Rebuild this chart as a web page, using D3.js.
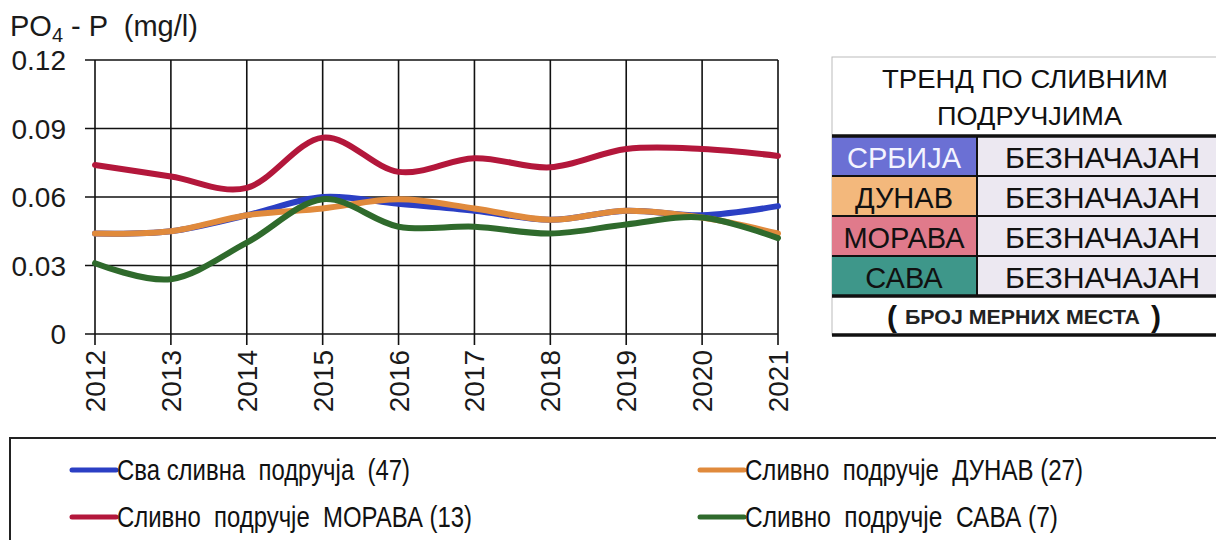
<!DOCTYPE html>
<html><head><meta charset="utf-8">
<script src="https://cdn.jsdelivr.net/npm/d3@7"></script>
<style>
body{margin:0;background:#fff;}
svg{display:block;font-family:"Liberation Sans",Arial,sans-serif;}
</style></head>
<body><svg id="c" width="1216" height="540"></svg>
<script>
const years = [2012,2013,2014,2015,2016,2017,2018,2019,2020,2021];
const yTicks = [0,0.03,0.06,0.09,0.12];
const yTickLabels = ["0","0.03","0.06","0.09","0.12"];
const srbija = [0.044,0.045,0.052,0.060,0.057,0.054,0.050,0.054,0.052,0.056];
const dunav  = [0.044,0.045,0.052,0.055,0.059,0.055,0.050,0.054,0.051,0.044];
const morava = [0.074,0.069,0.064,0.086,0.071,0.077,0.073,0.081,0.081,0.078];
const sava   = [0.031,0.024,0.040,0.059,0.047,0.047,0.044,0.048,0.051,0.042];
const seriesNames = ["Сва сливна  подручја  (47)","Сливно  подручје  ДУНАВ (27)","Сливно  подручје  МОРАВА (13)","Сливно  подручје  САВА (7)"];
const seriesColors = ["#2b3fc4","#e08a3c","#b3173b","#2f6a2c"];
const tableRegions = ["СРБИЈА","ДУНАВ","МОРАВА","САВА"];
const tableTrends = ["БЕЗНАЧАЈАН","БЕЗНАЧАЈАН","БЕЗНАЧАЈАН","БЕЗНАЧАЈАН"];
const tableColors = ["#6b70d4","#f3b87c","#e07a8b","#3e978a"];
const tableTextColors = ["#f4f4ff","#111","#111","#111"];

const svg = d3.select("#c");
const x = d3.scaleLinear().domain([2012,2021]).range([95,778]);
const y = d3.scaleLinear().domain([0,0.12]).range([334,60]);

function fit(sel, w){
  sel.each(function(){ this.setAttribute("textLength", w); this.setAttribute("lengthAdjust","spacingAndGlyphs"); });
  return sel;
}

// grid
const g = svg.append("g");
g.selectAll(".hg").data(yTicks).join("line")
  .attr("x1",85).attr("x2",x(2021)).attr("y1",d=>y(d)).attr("y2",d=>y(d))
  .attr("stroke","#111").attr("stroke-width",1.6);
g.selectAll(".vg").data(years).join("line")
  .attr("x1",d=>x(d)).attr("x2",d=>x(d)).attr("y1",y(0.12)).attr("y2",y(0)+11)
  .attr("stroke","#111").attr("stroke-width",1.6);

// y labels
g.selectAll(".yl").data(yTicks).join("text")
  .attr("x",66).attr("y",d=>y(d)+10).attr("text-anchor","end")
  .attr("font-size",28).attr("fill","#1a1a1a")
  .text((d,i)=>yTickLabels[i]);
// x labels
g.selectAll(".xl").data(years).join("text")
  .attr("transform",d=>`translate(${x(d)+10},350) rotate(-90)`)
  .attr("text-anchor","end").attr("font-size",28).attr("fill","#1a1a1a")
  .text(d=>d);

// title
const t = svg.append("text").attr("x",10).attr("y",36).attr("font-size",29).attr("fill","#1a1a1a")
  .attr("xml:space","preserve").style("white-space","pre");
t.append("tspan").text("PO");
t.append("tspan").attr("dy",6).attr("font-size",20).text("4");
t.append("tspan").attr("dy",-6).text(" - P  (mg/l)");

// lines
const line = d3.line().x((d,i)=>x(years[i])).y(d=>y(d)).curve(d3.curveCatmullRom.alpha(0));
const drawOrder = [[srbija,0],[dunav,1],[sava,3],[morava,2]];
drawOrder.forEach(([vals,ci])=>{
  svg.append("path").attr("d",line(vals)).attr("fill","none")
    .attr("stroke",seriesColors[ci]).attr("stroke-width",6).attr("stroke-linecap","round");
});

// table
const tb = svg.append("g");
tb.append("rect").attr("x",832).attr("y",57).attr("width",390).attr("height",278)
  .attr("fill","#fff").attr("stroke","#bbb").attr("stroke-width",1);
fit(tb.append("text").attr("x",882).attr("y",88).attr("font-size",25).attr("fill","#111").text("ТРЕНД ПО СЛИВНИМ"),286);
fit(tb.append("text").attr("x",937).attr("y",125).attr("font-size",25).attr("fill","#111").text("ПОДРУЧЈИМА"),185);
const rowTop = 136, rowH = 40;
tableRegions.forEach((r,i)=>{
  const yy = rowTop + i*rowH;
  tb.append("rect").attr("x",832).attr("y",yy).attr("width",145).attr("height",rowH).attr("fill",tableColors[i]);
  tb.append("rect").attr("x",977).attr("y",yy).attr("width",245).attr("height",rowH).attr("fill","#ece8f1");
  tb.append("text").attr("x",904).attr("y",yy+32).attr("text-anchor","middle").attr("font-size",29)
    .attr("fill",tableTextColors[i]).text(r);
  fit(tb.append("text").attr("x",1005).attr("y",yy+32).attr("font-size",29)
    .attr("fill","#111").text(tableTrends[i]),195);
  if(i>0) tb.append("line").attr("x1",832).attr("x2",1216).attr("y1",yy).attr("y2",yy).attr("stroke","#111").attr("stroke-width",2);
});
tb.append("line").attr("x1",977).attr("x2",977).attr("y1",rowTop).attr("y2",rowTop+4*rowH).attr("stroke","#111").attr("stroke-width",2);
[rowTop, rowTop+4*rowH, 335].forEach(v=>{
  tb.append("line").attr("x1",832).attr("x2",1216).attr("y1",v).attr("y2",v).attr("stroke","#111").attr("stroke-width",3.5);
});
fit(tb.append("text").attr("x",905).attr("y",324).attr("font-size",21).attr("font-weight","bold").attr("fill","#222").text("БРОЈ МЕРНИХ МЕСТА"),235);
tb.append("text").attr("x",892).attr("y",327).attr("text-anchor","middle").attr("font-size",30).attr("font-weight","bold").attr("fill","#111").text("(");
tb.append("text").attr("x",1156).attr("y",327).attr("text-anchor","middle").attr("font-size",30).attr("font-weight","bold").attr("fill","#111").text(")");

// legend
const lg = svg.append("g");
lg.append("rect").attr("x",10).attr("y",438).attr("width",1220).attr("height",120).attr("fill","#fff").attr("stroke","#222").attr("stroke-width",2);
const legPos = [[72,470],[700,470],[72,517],[700,517]];
const legW = [293,338,355,313];
seriesNames.forEach((n,i)=>{
  const [lx,ly] = legPos[i];
  lg.append("line").attr("x1",lx).attr("x2",lx+44).attr("y1",ly).attr("y2",ly)
    .attr("stroke",seriesColors[i]).attr("stroke-width",5).attr("stroke-linecap","round");
  fit(lg.append("text").attr("x",lx+45).attr("y",ly+10).attr("font-size",29).attr("fill","#111")
    .attr("xml:space","preserve").style("white-space","pre").text(n), legW[i]);
});
</script></body></html>
